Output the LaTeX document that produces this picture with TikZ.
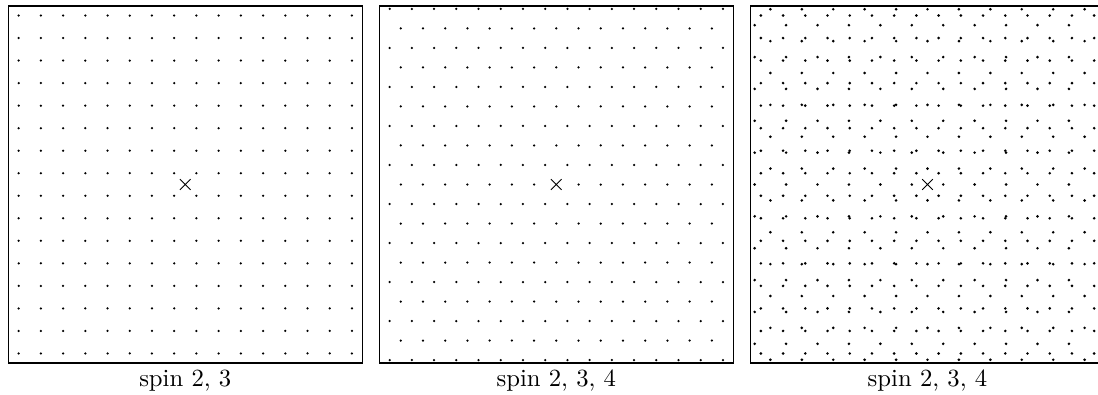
\documentclass[tikz,border=0pt]{standalone}
\usepackage{graphicx}
\newcommand\latpt[3]{\fill (#1,#2) circle[radius=#3];}
\newcommand\labtext[1]{\scalebox{2.47}{#1}}
\begin{document}
\begin{tikzpicture}[x=1pt,y=-1pt,
  box/.style={draw, line width=1.2pt},
  crossmark/.style={line width=0.9pt},
  lab/.style={font=\fontsize{10}{12}\selectfont, anchor=base, inner sep=0pt}]
\useasboundingbox (0,0) rectangle (1098,394);
\def\ax{22.22}\def\ay{22.53}\def\cy{184.5}
\def\hw{177}\def\hh{178.5}
% ---------- panel 1: square lattice ----------
\def\cx{185.3}
\draw[box] (\cx-\hw,\cy-\hh) rectangle (\cx+\hw,\cy+\hh);
\foreach \i in {-8,...,7}{\foreach \j in {-8,...,7}{
  \latpt{\cx+\i*\ax+0.5*\ax}{\cy+\j*\ay+0.5*\ay}{1.25pt}}}
\draw[crossmark] (\cx-5.3,\cy-5.3) -- (\cx+5.3,\cy+5.3) (\cx-5.3,\cy+5.3) -- (\cx+5.3,\cy-5.3);
\node[lab] (lab1) at (\cx,386) {\labtext{spin 2, 3}};
% ---------- panel 2: triangular lattice ----------
\def\cx{556.3}
\draw[box] (\cx-\hw,\cy-\hh) rectangle (\cx+\hw,\cy+\hh);
\foreach \r in {-9,...,9}{
  \ifodd\r
    \foreach \k in {-8,...,7}{\latpt{\cx+\k*\ax+0.5*\ax}{\cy+\r*\ay*0.866}{1.25pt}}
  \else
    \foreach \k in {-7,...,7}{
      \ifnum\r=0 \ifnum\k=0 \else \latpt{\cx+\k*\ax}{\cy}{1.25pt}\fi
      \else \latpt{\cx+\k*\ax}{\cy+\r*\ay*0.866}{1.25pt}\fi}
  \fi}
\draw[crossmark] (\cx-5.3,\cy-5.3) -- (\cx+5.3,\cy+5.3) (\cx-5.3,\cy+5.3) -- (\cx+5.3,\cy-5.3);
\node[lab] (lab2) at (\cx,386) {\labtext{spin 2, 3, 4}};
% ---------- panel 3: square lattice and its 45 degree turn ----------
\def\cx{927.5}
\draw[box] (\cx-\hw,\cy-\hh) rectangle (\cx+\hw,\cy+\hh);
\foreach \i in {-8,...,7}{\foreach \j in {-8,...,7}{
  \latpt{\cx+\i*\ax+0.5*\ax}{\cy+\j*\ay+0.5*\ay}{1.45pt}}}
\foreach \m in {-11,...,11}{\foreach \n in {-11,...,11}{
  \ifodd\numexpr\m+\n\relax
    \latpt{\cx+\m*15.712}{\cy+\n*15.931}{1.45pt}
  \fi}}
\draw[crossmark] (\cx-5.3,\cy-5.3) -- (\cx+5.3,\cy+5.3) (\cx-5.3,\cy+5.3) -- (\cx+5.3,\cy-5.3);
\node[lab] (lab3) at (\cx,386) {\labtext{spin 2, 3, 4}};
\end{tikzpicture}
\end{document}
